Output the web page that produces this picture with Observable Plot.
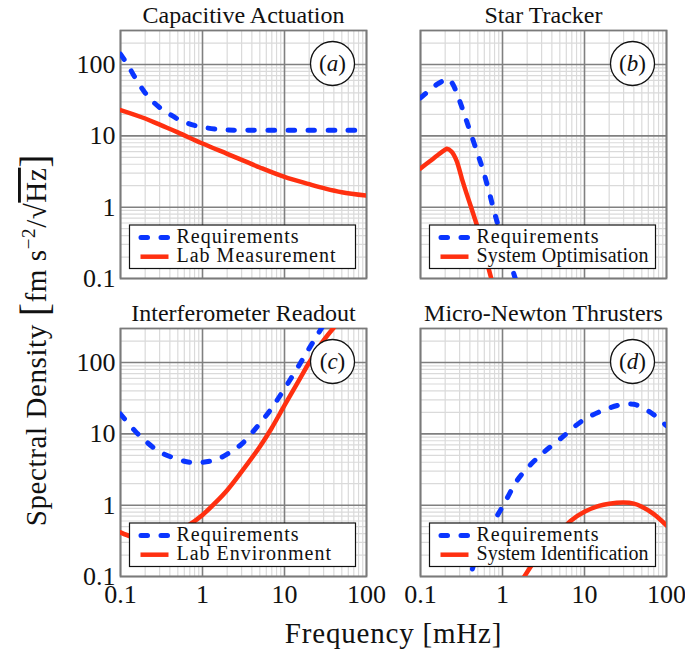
<!DOCTYPE html>
<html>
<head>
<meta charset="utf-8">
<script src="https://cdn.jsdelivr.net/npm/d3@7"></script>
<script src="https://cdn.jsdelivr.net/npm/@observablehq/plot@0.6"></script>
<style>
  body { margin: 0; background: #fff; }
</style>
</head>
<body>
<div id="chart"></div>
<script>
// ---------- panels ----------
const panelIds = ["a", "b", "c", "d"];
const panelCols = ["left", "right", "left", "right"];
const panelRows = ["top", "top", "bottom", "bottom"];
const panelTitles = ["Capacitive Actuation", "Star Tracker", "Interferometer Readout", "Micro-Newton Thrusters"];
const requirementName = "Requirements";
const measuredNames = ["Lab Measurement", "System Optimisation", "Lab Environment", "System Identification"];

// ---------- axis ticks ----------
const xTicks = [0.1, 1, 10, 100];
const yTicks = [0.1, 1, 10, 100];
const xDomain = [0.1, 100];
const yDomain = [0.1, 300];

// ---------- (a) Capacitive Actuation ----------
const aReqF  = [0.1, 0.125, 0.15, 0.2, 0.25, 0.3, 0.4, 0.5, 0.6, 0.8, 1, 1.5, 2, 3, 5, 10, 20, 50, 100];
const aReqV  = [140, 95, 66, 40, 30, 25, 20, 17.2, 15.6, 14, 13.2, 12.4, 12.1, 12, 12, 12, 12, 12, 12];
const aMeasF = [0.1, 0.2, 0.316, 0.5, 1, 2, 3.16, 5, 10, 20, 31.6, 50, 100];
const aMeasV = [23, 17.5, 14, 11.2, 7.8, 5.6, 4.5, 3.6, 2.65, 2.1, 1.82, 1.62, 1.45];

// ---------- (b) Star Tracker ----------
const bReqF  = [0.1, 0.13, 0.16, 0.2, 0.22, 0.25, 0.3, 0.35, 0.4, 0.5, 0.58, 0.7, 0.85, 1, 1.2, 1.41, 1.6];
const bReqV  = [34, 44, 53, 61, 63, 52, 31, 18.5, 11.8, 5.5, 3.3, 1.5, 0.65, 0.36, 0.19, 0.106, 0.065];
const bMeasF = [0.1, 0.13, 0.16, 0.2, 0.21, 0.24, 0.275, 0.32, 0.364, 0.42, 0.48, 0.55, 0.63, 0.73, 0.85];
const bMeasV = [3.5, 4.4, 5.3, 6.4, 6.6, 6.0, 4.5, 2.5, 1.56, 0.95, 0.59, 0.34, 0.19, 0.1, 0.055];

// ---------- (c) Interferometer Readout ----------
const cReqF  = [0.1, 0.15, 0.2, 0.3, 0.5, 0.7, 1, 1.5, 2, 3, 5, 7, 10, 15, 20, 25, 30];
const cReqV  = [19, 11, 8, 5.6, 4.4, 4.0, 4.0, 4.4, 5.2, 7.2, 14, 23, 43, 91, 158, 240, 340];
const cMeasF = [0.1, 0.136, 0.2, 0.3, 0.45, 0.67, 1, 1.48, 2, 3, 5, 6.9, 10, 15, 20, 25, 30, 40, 50];
const cMeasV = [0.415, 0.36, 0.32, 0.33, 0.4, 0.52, 0.73, 1.12, 1.62, 2.95, 6.6, 11.8, 25, 56, 100, 150, 205, 310, 420];

// ---------- (d) Micro-Newton Thrusters ----------
const dReqF  = [0.35, 0.4, 0.5, 0.6, 0.8, 1, 1.5, 2, 3, 5, 10, 20, 30, 40, 50, 70, 100];
const dReqV  = [0.07, 0.1, 0.22, 0.36, 0.62, 0.95, 2.2, 3.3, 5.2, 8.4, 16, 23, 26, 26, 23.5, 18.5, 13];
const dMeasF = [1.6, 1.85, 2.5, 3, 4, 5, 7, 10, 15, 20, 30, 40, 50, 70, 100];
const dMeasV = [0.075, 0.1, 0.17, 0.22, 0.33, 0.42, 0.62, 0.81, 0.98, 1.05, 1.09, 1.05, 0.95, 0.75, 0.52];

// ---------- build tables ----------
const reqSeries  = [[aReqF, aReqV], [bReqF, bReqV], [cReqF, cReqV], [dReqF, dReqV]];
const measSeries = [[aMeasF, aMeasV], [bMeasF, bMeasV], [cMeasF, cMeasV], [dMeasF, dMeasV]];
const toRows = (series) => series.flatMap(([F, V], i) =>
  F.map((f, k) => ({panel: panelIds[i], col: panelCols[i], row: panelRows[i], f, v: V[k]})));
const reqRows = toRows(reqSeries);
const measRows = toRows(measSeries);
const panels = panelIds.map((id, i) => ({id, col: panelCols[i], row: panelRows[i], title: panelTitles[i]}));

const minorX = [0.1, 1, 10].flatMap(d => d3.range(2, 10).map(k => k * d));
const minorY = [0.1, 1, 10, 100].flatMap(d => d3.range(2, 10).map(k => k * d)).filter(v => v <= yDomain[1]);

const BLUE = "#0a35ff";
const RED = "#ff3010";
const FONT = "'Liberation Serif', 'Times New Roman', serif";

const chart = Plot.plot({
  width: 685,
  height: 655,
  marginLeft: 119,
  marginRight: 19,
  marginTop: 29,
  marginBottom: 78,
  style: {fontFamily: FONT, fontSize: "26px", color: "#111", background: "white"},
  fx: {domain: ["left", "right"], paddingInner: 0.18, paddingOuter: 0, axis: null, label: null},
  fy: {domain: ["top", "bottom"], paddingInner: 0.167, paddingOuter: 0, axis: null, label: null},
  x: {type: "log", domain: xDomain, ticks: xTicks, tickFormat: d => `${d}`, tickSize: 0, tickPadding: 8, label: null},
  y: {type: "log", domain: yDomain, ticks: yTicks, tickFormat: d => `${d}`, tickSize: 0, tickPadding: 5, label: null},
  marks: [
    Plot.ruleX(minorX, {stroke: "#dadada", strokeWidth: 1.2}),
    Plot.ruleY(minorY, {stroke: "#dadada", strokeWidth: 1.2}),
    Plot.ruleX(xTicks, {stroke: "#808080", strokeWidth: 1.6}),
    Plot.ruleY(yTicks, {stroke: "#808080", strokeWidth: 1.6}),
    Plot.frame({stroke: "#7a7a7a", strokeWidth: 1.8}),
    Plot.line(measRows, {x: "f", y: "v", fx: "col", fy: "row", z: "panel", stroke: RED, strokeWidth: 4.5,
      curve: "catmull-rom", clip: true}),
    Plot.line(reqRows, {x: "f", y: "v", fx: "col", fy: "row", z: "panel", stroke: BLUE, strokeWidth: 5,
      strokeDasharray: "6.5,13.5", strokeLinecap: "round", curve: "catmull-rom", clip: true}),
    Plot.dot(panels, {fx: "col", fy: "row", frameAnchor: "top-right", dx: -34, dy: 33, r: 22,
      fill: "white", stroke: "#111", strokeWidth: 1.3}),
    Plot.text(panels, {fx: "col", fy: "row", text: "title", frameAnchor: "top", dy: -8, lineAnchor: "bottom",
      fontSize: 24, fill: "#111", ariaLabel: "panel-title"})
  ]
});

document.getElementById("chart").append(chart);
const svg = d3.select(chart);

// letter-spacing for titles (CM-like width)
svg.selectAll('[aria-label="panel-title"] text').style("letter-spacing", "1.4px");

// locate facet frames
const svgBox = chart.getBoundingClientRect();
const frameEls = new Set();
chart.querySelectorAll('[aria-label="frame"]').forEach(el => {
  if (el.tagName.toLowerCase() === "rect") frameEls.add(el);
  else el.querySelectorAll("rect").forEach(r => frameEls.add(r));
});
const frames = Array.from(frameEls).map(el => {
  const b = el.getBoundingClientRect();
  return {left: b.left - svgBox.left, top: b.top - svgBox.top, right: b.right - svgBox.left, bottom: b.bottom - svgBox.top};
}).sort((p, q) => (Math.round(p.top - q.top)) || (p.left - q.left));

const LEG_W = 226, LEG_H = 43.5, LEG_TEXT = 47, LEG_PAD = 7;
frames.forEach((fr, i) => {
  if (i >= panelIds.length) return;
  // panel tag "(a)" etc. inside the circle
  const tag = svg.append("text").attr("x", fr.right - 34).attr("y", fr.top + 33 + 7.5)
    .attr("text-anchor", "middle").attr("font-family", FONT).attr("font-size", 23).attr("fill", "#111");
  tag.append("tspan").text("(");
  tag.append("tspan").attr("font-style", "italic").text(panelIds[i]);
  tag.append("tspan").text(")");

  // legend
  const g = svg.append("g").attr("font-family", FONT).attr("font-size", 20).attr("fill", "#111")
    .attr("text-anchor", "start");
  const boxX = fr.left + 9;
  const boxTop = fr.bottom - 10 - LEG_H;
  const rowY = [boxTop + 12.4, boxTop + 31.7];
  const labels = [requirementName, measuredNames[i]];
  g.append("rect").attr("x", boxX).attr("y", boxTop).attr("width", LEG_W).attr("height", LEG_H)
    .attr("fill", "white").attr("stroke", "#111").attr("stroke-width", 1.2);
  g.append("line").attr("x1", boxX + 11.5).attr("x2", boxX + 38.5).attr("y1", rowY[0]).attr("y2", rowY[0])
    .attr("stroke", BLUE).attr("stroke-width", 5).attr("stroke-dasharray", "6.5,13.5").attr("stroke-linecap", "round");
  g.append("line").attr("x1", boxX + 11).attr("x2", boxX + 39).attr("y1", rowY[1]).attr("y2", rowY[1])
    .attr("stroke", RED).attr("stroke-width", 4.5);
  const avail = LEG_W - LEG_TEXT - LEG_PAD;
  labels.forEach((lab, k) => {
    const t = g.append("text").attr("x", boxX + LEG_TEXT).attr("y", rowY[k] + 5.5)
      .style("letter-spacing", "1px").text(lab);
    if (t.node().getComputedTextLength() > avail) {
      t.style("letter-spacing", "0px").attr("textLength", avail).attr("lengthAdjust", "spacing");
    }
  });
});

// x axis label
const xc = frames.length >= 2 ? (frames[0].left + frames[1].right) / 2 : 392;
svg.append("text").attr("x", xc).attr("y", 643).attr("text-anchor", "middle")
  .attr("font-family", FONT).attr("font-size", 29).attr("fill", "#111").style("letter-spacing", "0.8px")
  .text("Frequency [mHz]");

// y axis label with units
const yl = svg.append("text").attr("transform", "translate(46,340) rotate(-90)").attr("text-anchor", "middle")
  .attr("font-family", FONT).attr("font-size", 29).attr("fill", "#111").style("letter-spacing", "0.6px");
yl.append("tspan").text("Spectral Density ");
yl.append("tspan").attr("font-size", 40).attr("dy", 2).text("[");
yl.append("tspan").attr("dy", -2).text("fm s");
yl.append("tspan").attr("font-size", 19).attr("dy", -11).text("−2");
yl.append("tspan").attr("dy", 11).text("/");
yl.append("tspan").text("√");
yl.append("tspan").style("text-decoration", "overline").text("Hz");
yl.append("tspan").attr("font-size", 40).attr("dy", 2).text("]");
</script>
</body>
</html>
